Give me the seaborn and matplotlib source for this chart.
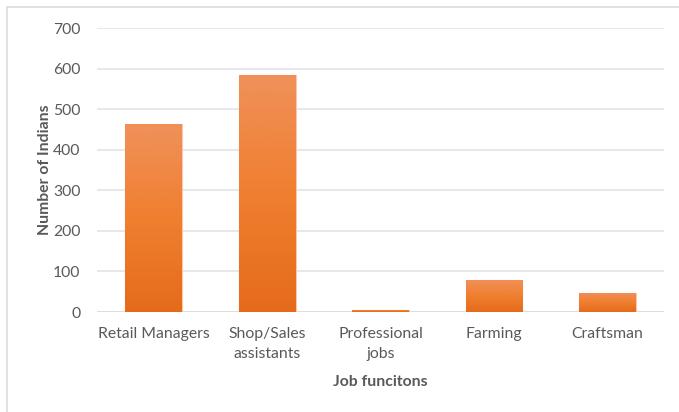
import matplotlib
matplotlib.use("Agg")
import matplotlib.pyplot as plt
import seaborn as sns
import numpy as np
import pandas as pd
from matplotlib.colors import LinearSegmentedColormap
from matplotlib.lines import Line2D

categories = ["Retail Managers", "Shop/Sales\nassistants", "Professional\njobs", "Farming", "Craftsman"]
values = [463, 585, 5, 79, 48]
y_ticks = [0, 100, 200, 300, 400, 500, 600, 700]

sns.set_theme(style="white")
plt.rcParams['font.family'] = ['Lato', 'DejaVu Sans']

df = pd.DataFrame({"job": categories, "count": values})

fig = plt.figure(figsize=(6.79, 4.12), dpi=100)
ax = fig.add_axes([0.143, 0.2427, 0.835, 0.6893])

sns.barplot(data=df, x="job", y="count", color="#F07F30", width=0.5, ax=ax,
            edgecolor="#F8C8A8", linewidth=0.8, zorder=3)

ax.set_ylim(0, 700)
ax.set_xlim(-0.5, len(categories) - 0.5)
ax.set_yticks(y_ticks)
ax.yaxis.grid(True, color="#E1E4EA", linewidth=1.2, zorder=0)
ax.set_axisbelow(True)
for s in ["top", "right", "left", "bottom"]:
    ax.spines[s].set_visible(False)
ax.axhline(0, color="#DADDE3", linewidth=1.2, zorder=2)

# gradient fill on bars
cmap = LinearSegmentedColormap.from_list("grad", ["#E56B1B", "#F07F30", "#F0915A"])
grad = np.linspace(0, 1, 256).reshape(-1, 1)
for p in ax.patches:
    x0, y0 = p.get_x(), p.get_y()
    w, h = p.get_width(), p.get_height()
    if h <= 0:
        continue
    im = ax.imshow(grad, extent=[x0, x0 + w, y0, y0 + h], origin="lower",
                   cmap=cmap, aspect="auto", zorder=3.5)
    im.set_clip_path(p)
ax.set_xlim(-0.5, len(categories) - 0.5)
ax.set_ylim(0, 700)

ax.tick_params(axis="both", length=0, colors="#595959", labelsize=11.3)
ax.tick_params(axis="y", pad=12)
ax.tick_params(axis="x", pad=11)
for lbl in ax.get_xticklabels():
    lbl.set_linespacing(1.55)

ax.set_xlabel("Job funcitons", fontsize=11.3, fontweight="bold", color="#595959", labelpad=10)
ax.set_ylabel("Number of Indians", fontsize=11.3, fontweight="bold", color="#595959", labelpad=1)

# chart border (top and left visible)
fig.add_artist(Line2D([7 / 679, 1.0], [1 - 7 / 412, 1 - 7 / 412], color="#D9DCE3", linewidth=1.2))
fig.add_artist(Line2D([7 / 679, 7 / 679], [0, 1 - 7 / 412], color="#D9DCE3", linewidth=1.2))

fig.savefig("out.png", dpi=100)
